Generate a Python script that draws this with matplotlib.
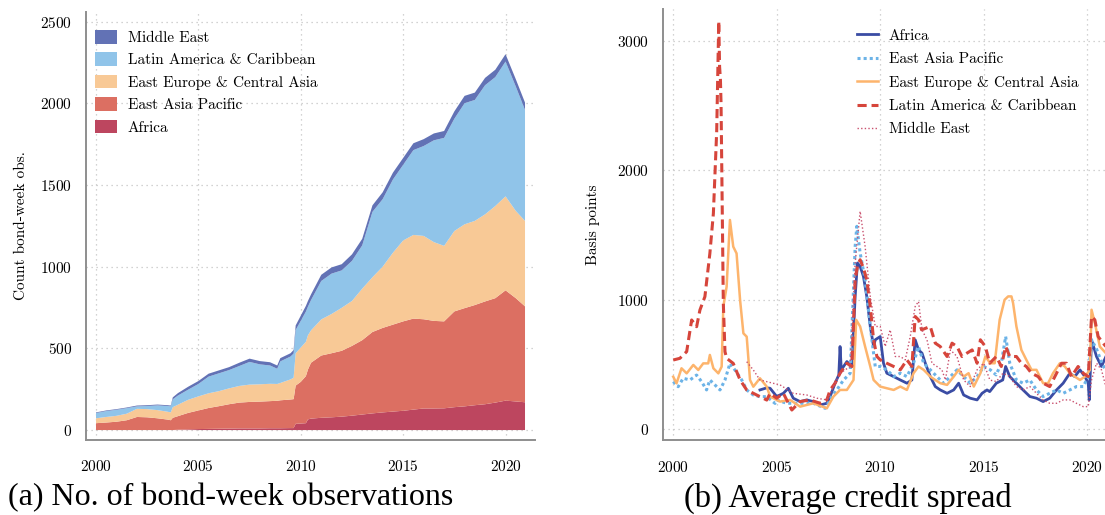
import matplotlib
matplotlib.use("Agg")
import matplotlib.pyplot as plt

plt.rcParams['font.family'] = ['cmr10', 'DejaVu Serif']
plt.rcParams['mathtext.fontset'] = 'cm'
plt.rcParams['axes.formatter.use_mathtext'] = True
plt.rcParams['axes.unicode_minus'] = False

# ---------------- panel (a): bond-week observations, stacked by region
obs_years = [2000.0, 2000.5, 2001.0, 2001.5, 2002.0, 2002.5, 2003.0, 2003.5, 2003.65, 2003.75,
             2004.0, 2004.5, 2005.0, 2005.5, 2006.0, 2006.5, 2007.0, 2007.5, 2008.0, 2008.5,
             2008.85, 2009.0, 2009.5, 2009.65, 2009.75, 2010.0, 2010.25, 2010.35, 2010.5, 2011.0,
             2011.5, 2012.0, 2012.5, 2013.0, 2013.5, 2014.0, 2014.5, 2015.0, 2015.5, 2016.0,
             2016.5, 2017.0, 2017.5, 2018.0, 2018.5, 2019.0, 2019.5, 2020.0, 2020.5, 2020.95]
obs_africa = [0, 0, 0, 0, 0, 0, 0, 0, 0, 0,
              2, 4, 6, 7, 8, 9, 10, 10, 10, 11,
              11, 11, 12, 12, 38, 40, 42, 65, 70, 75,
              78, 82, 88, 95, 102, 108, 113, 118, 125, 132,
              132, 133, 140, 145, 152, 158, 168, 180, 175, 170]
obs_eap = [42, 46, 51, 60, 80, 78, 72, 64, 60, 75,
           83, 101, 114, 128, 138, 149, 158, 162, 164, 166,
           168, 171, 175, 177, 234, 255, 288, 305, 342, 381,
           392, 403, 427, 455, 498, 517, 532, 547, 557, 546,
           536, 532, 586, 601, 613, 629, 639, 675, 632, 587]
obs_eeca = [30, 34, 36, 40, 50, 50, 50, 48, 48, 65,
            70, 80, 86, 90, 92, 97, 102, 106, 106, 106,
            103, 106, 123, 131, 198, 210, 210, 210, 198, 221,
            240, 263, 275, 315, 335, 375, 440, 495, 512, 510,
            482, 462, 492, 513, 515, 533, 564, 575, 534, 523]
obs_lac = [32, 36, 37, 34, 15, 19, 29, 35, 37, 48,
           56, 62, 76, 102, 109, 112, 122, 139, 122, 112,
           93, 132, 140, 148, 142, 163, 185, 175, 185, 235,
           247, 229, 245, 265, 400, 413, 448, 463, 519, 550,
           623, 661, 687, 741, 740, 790, 789, 825, 761, 679]
obs_me = [4, 4, 4, 4, 5, 5, 5, 5, 5, 12,
          15, 18, 18, 18, 18, 18, 20, 20, 20, 20,
          20, 20, 20, 22, 28, 32, 35, 35, 35, 38,
          38, 38, 40, 40, 40, 42, 42, 42, 42, 42,
          42, 42, 45, 45, 45, 45, 45, 45, 45, 45]

# ---------------- panel (b): average credit spread (basis points)
africa_t = [2004.19, 2004.52, 2004.68, 2005.0, 2005.32, 2005.56, 2005.8, 2006.13, 2006.45, 2006.77,
            2007.1, 2007.42, 2007.58, 2007.82, 2008.0, 2008.06, 2008.12, 2008.39, 2008.63, 2008.79,
            2008.9, 2009.03, 2009.19, 2009.35, 2009.52, 2009.68, 2009.76, 2010.0, 2010.16, 2010.32,
            2010.65, 2010.97, 2011.29, 2011.53, 2011.69, 2011.85, 2012.02, 2012.18, 2012.42, 2012.66,
            2012.9, 2013.23, 2013.55, 2013.79, 2014.03, 2014.35, 2014.68, 2014.92, 2015.16, 2015.29,
            2015.61, 2015.92, 2016.06, 2016.26, 2016.58, 2016.9, 2017.23, 2017.55, 2017.87, 2018.19,
            2018.52, 2018.84, 2019.16, 2019.4, 2019.65, 2019.89, 2020.05, 2020.1, 2020.21, 2020.45,
            2020.69, 2020.9]
africa_v = [304, 320, 317, 253, 278, 317, 240, 214, 227, 214,
            188, 201, 253, 356, 420, 639, 459, 523, 485, 1026,
            1284, 1258, 1180, 1026, 794, 639, 691, 716, 510, 433,
            407, 381, 356, 381, 691, 613, 588, 510, 407, 330,
            304, 278, 304, 356, 265, 240, 227, 278, 304, 291,
            356, 381, 485, 407, 356, 304, 253, 240, 214, 240,
            304, 356, 433, 407, 459, 407, 356, 227, 691, 562,
            485, 560]

eap_t = [2000.0, 2000.24, 2000.48, 2000.81, 2001.13, 2001.37, 2001.61, 2001.77, 2002.02, 2002.26,
         2002.5, 2002.74, 2002.98, 2003.31, 2003.55, 2003.87, 2004.19, 2004.52, 2004.92, 2005.0,
         2005.48, 2006.13, 2006.77, 2007.34, 2007.66, 2007.9, 2008.23, 2008.55, 2008.79, 2008.87,
         2009.03, 2009.27, 2009.52, 2009.76, 2010.0, 2010.32, 2010.65, 2010.97, 2011.29, 2011.61,
         2011.85, 2012.1, 2012.42, 2012.74, 2013.06, 2013.39, 2013.71, 2014.03, 2014.35, 2014.68,
         2015.0, 2015.32, 2015.6, 2015.85, 2016.06, 2016.26, 2016.58, 2016.9, 2017.23, 2017.55,
         2017.87, 2018.19, 2018.52, 2018.84, 2019.16, 2019.48, 2019.81, 2020.05, 2020.21, 2020.45,
         2020.69, 2020.9]
eap_v = [368, 329, 394, 381, 419, 368, 304, 381, 342, 304,
         381, 509, 458, 381, 304, 265, 252, 252, 200, 227,
         201, 201, 201, 162, 253, 304, 381, 433, 1412, 1567,
         1361, 1155, 794, 485, 485, 459, 407, 433, 407, 510,
         639, 510, 459, 407, 356, 407, 459, 407, 356, 407,
         485, 459, 420, 510, 716, 510, 381, 356, 381, 304,
         253, 278, 304, 278, 304, 330, 330, 407, 691, 620,
         520, 450]

eeca_t = [2000.0, 2000.16, 2000.4, 2000.65, 2000.97, 2001.21, 2001.45, 2001.69, 2001.77, 2001.94,
          2002.18, 2002.34, 2002.42, 2002.58, 2002.74, 2002.9, 2003.06, 2003.23, 2003.39, 2003.55,
          2003.71, 2003.87, 2004.19, 2004.52, 2004.68, 2005.16, 2005.65, 2006.13, 2006.77, 2007.42,
          2007.74, 2008.06, 2008.39, 2008.71, 2008.84, 2009.03, 2009.27, 2009.52, 2009.68, 2010.0,
          2010.32, 2010.65, 2010.97, 2011.29, 2011.61, 2011.85, 2012.1, 2012.42, 2012.66, 2012.9,
          2013.23, 2013.55, 2013.79, 2014.03, 2014.27, 2014.52, 2014.84, 2015.08, 2015.32, 2015.53,
          2015.77, 2016.01, 2016.18, 2016.34, 2016.42, 2016.58, 2016.82, 2017.06, 2017.31, 2017.55,
          2017.87, 2018.11, 2018.35, 2018.68, 2018.92, 2019.16, 2019.4, 2019.65, 2019.89, 2020.13,
          2020.21, 2020.37, 2020.61, 2020.9]
eeca_v = [406, 355, 471, 432, 497, 458, 509, 509, 574, 471,
          432, 484, 947, 1101, 1616, 1410, 1358, 998, 741, 715,
          381, 329, 394, 329, 253, 214, 227, 175, 201, 162,
          253, 304, 304, 381, 845, 794, 639, 485, 381, 330,
          317, 304, 330, 304, 433, 485, 459, 407, 381, 356,
          343, 407, 459, 407, 433, 330, 433, 562, 510, 510,
          845, 1000, 1026, 1026, 974, 794, 613, 536, 459, 459,
          356, 356, 433, 510, 485, 433, 407, 381, 407, 459,
          923, 820, 639, 588]

lac_t = [2000.0, 2000.32, 2000.65, 2000.89, 2001.13, 2001.29, 2001.53, 2001.77, 2001.94, 2002.1,
         2002.2, 2002.24, 2002.28, 2002.31, 2002.42, 2002.5, 2002.58, 2002.9, 2003.23, 2003.55,
         2003.87, 2004.19, 2004.52, 2004.68, 2005.0, 2005.32, 2005.73, 2006.13, 2006.6, 2007.1,
         2007.42, 2007.58, 2007.82, 2008.06, 2008.39, 2008.63, 2008.79, 2008.9, 2009.03, 2009.19,
         2009.35, 2009.52, 2009.68, 2009.84, 2010.0, 2010.32, 2010.65, 2010.97, 2011.29, 2011.53,
         2011.69, 2011.85, 2012.0, 2012.42, 2012.66, 2012.9, 2013.23, 2013.47, 2013.71, 2013.95,
         2014.19, 2014.44, 2014.68, 2014.84, 2015.08, 2015.29, 2015.61, 2015.85, 2016.06, 2016.26,
         2016.58, 2016.82, 2017.06, 2017.31, 2017.63, 2017.87, 2018.19, 2018.52, 2018.76, 2019.0,
         2019.24, 2019.56, 2019.81, 2020.05, 2020.21, 2020.37, 2020.53, 2020.77, 2020.9]
lac_v = [535, 548, 600, 844, 792, 921, 1024, 1358, 1667, 2300,
         3150, 2800, 2700, 2516, 972, 600, 548, 509, 381, 304,
         278, 252, 226, 278, 240, 278, 149, 214, 227, 201,
         227, 304, 356, 433, 510, 485, 1155, 1258, 1309, 1245,
         1155, 948, 691, 562, 536, 510, 485, 459, 536, 485,
         871, 845, 768, 794, 665, 639, 562, 665, 639, 562,
         588, 613, 510, 691, 639, 510, 562, 485, 639, 562,
         562, 510, 485, 433, 407, 356, 330, 433, 510, 510,
         407, 485, 433, 407, 871, 845, 716, 665, 640]

me_t = [2003.55, 2003.87, 2004.19, 2004.84, 2005.16, 2005.8, 2006.45, 2006.94, 2007.42, 2007.74,
        2008.06, 2008.55, 2008.79, 2009.03, 2009.27, 2009.52, 2009.76, 2010.0, 2010.24, 2010.48,
        2010.73, 2010.97, 2011.21, 2011.45, 2011.69, 2011.85, 2012.02, 2012.26, 2012.5, 2012.74,
        2012.98, 2013.15, 2013.39, 2013.71, 2014.03, 2014.35, 2014.68, 2015.0, 2015.3, 2015.61,
        2015.93, 2016.26, 2016.58, 2016.9, 2017.23, 2017.55, 2017.87, 2018.19, 2018.52, 2018.84,
        2019.16, 2019.48, 2019.81, 2020.05, 2020.21, 2020.45, 2020.69, 2020.9]
me_v = [522, 458, 381, 355, 343, 278, 265, 240, 227, 330,
        433, 485, 1284, 1683, 1412, 1026, 794, 794, 639, 768,
        562, 562, 536, 716, 948, 987, 768, 691, 510, 485,
        459, 381, 613, 562, 381, 330, 459, 510, 380, 369,
        433, 407, 330, 304, 330, 278, 227, 201, 201, 227,
        227, 201, 175, 175, 381, 510, 459, 330]

area_labels = ["Africa", "East Asia Pacific", "East Europe & Central Asia",
               "Latin America & Caribbean", "Middle East"]
area_colors = ["#bd465f", "#dc6f62", "#f8c996", "#90c4e9", "#6272b5"]

grid_kw = dict(color="#c4c4c4", linestyle=(0, (1, 3)), linewidth=0.9)


def style_axis(ax):
    for side in ("top", "right"):
        ax.spines[side].set_visible(False)
    for side in ("left", "bottom"):
        ax.spines[side].set_color("#8e8e8e")
        ax.spines[side].set_linewidth(1.4)
    ax.tick_params(length=0, labelsize=11, pad=10)
    ax.tick_params(axis="x", pad=14)
    ax.grid(True, **grid_kw)
    ax.set_axisbelow(True)


fig = plt.figure(figsize=(11.05, 5.15), dpi=100)

# Panel (a)
ax1 = fig.add_axes([0.0778, 0.1456, 0.4064, 0.832])
ax1.stackplot(obs_years, obs_africa, obs_eap, obs_eeca, obs_lac, obs_me,
              colors=area_colors, labels=area_labels, linewidth=0)
ax1.set_xlim(1999.51, 2021.44)
ax1.set_ylim(-61, 2561)
ax1.set_xticks([2000, 2005, 2010, 2015, 2020])
ax1.set_yticks([0, 500, 1000, 1500, 2000, 2500])
ax1.set_ylabel("Count bond-week obs.", fontsize=11, labelpad=9)
style_axis(ax1)
h, l = ax1.get_legend_handles_labels()
ax1.legend(h[::-1], l[::-1], loc="upper left", bbox_to_anchor=(0.02, 0.957),
           frameon=False, fontsize=11, handlelength=1.45, handleheight=1.0,
           handletextpad=0.7, labelspacing=0.48, borderaxespad=0, borderpad=0)

# Panel (b)
ax2 = fig.add_axes([0.5997, 0.145, 0.4003, 0.8366])
ax2.plot(africa_t, africa_v, color="#3a4ca4", lw=2.0, label="Africa")
ax2.plot(eap_t, eap_v, color="#6cb3e7", lw=2.2, linestyle=(0, (1, 1)), label="East Asia Pacific")
ax2.plot(eeca_t, eeca_v, color="#fdb46c", lw=1.8, label="East Europe & Central Asia")
ax2.plot(lac_t, lac_v, color="#d6453b", lw=2.2, linestyle=(0, (3, 1.6)), label="Latin America & Caribbean")
ax2.plot(me_t, me_v, color="#c9506e", lw=1.0, linestyle=(0, (1, 1.6)), label="Middle East")
ax2.set_xlim(1999.49, 2020.86)
ax2.set_ylim(-85, 3241)
ax2.set_xticks([2000, 2005, 2010, 2015, 2020])
ax2.set_yticks([0, 1000, 2000, 3000])
ax2.set_ylabel("Basis points", fontsize=11, labelpad=12)
style_axis(ax2)
ax2.legend(loc="upper left", bbox_to_anchor=(0.44, 0.955), frameon=False, fontsize=11,
           handlelength=1.35, handletextpad=0.7, labelspacing=0.63,
           borderaxespad=0, borderpad=0)

# Sub-captions
fig.text(231 / 1105, 1 - 498 / 515, "(a) No. of bond-week observations",
         family="Liberation Serif", fontsize=23, ha="center", va="center")
fig.text(848 / 1105, 1 - 498 / 515, "(b) Average credit spread",
         family="Liberation Serif", fontsize=23.5, ha="center", va="center")

fig.savefig("out.png", dpi=100)
